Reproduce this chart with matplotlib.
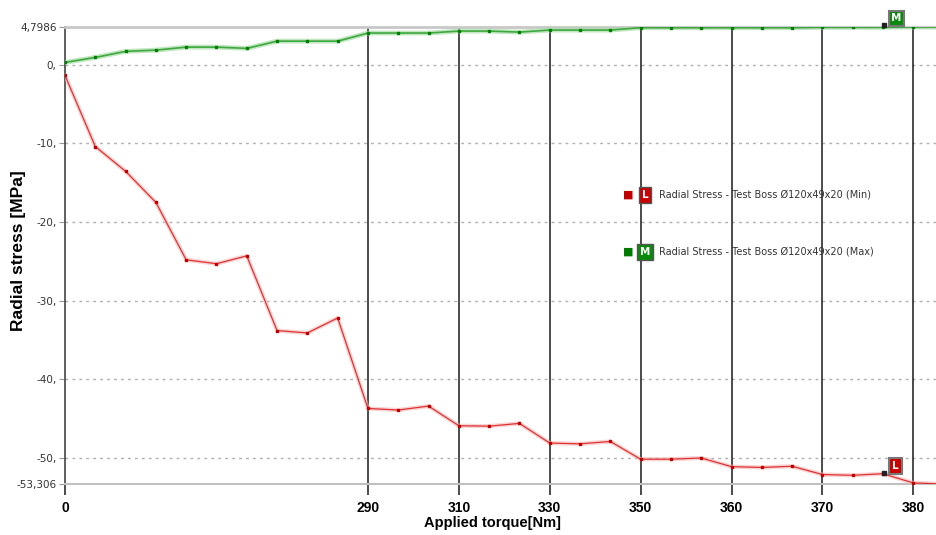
import matplotlib
matplotlib.use("Agg")
import matplotlib.pyplot as plt

# load steps (x axis is the step index, labelled with torque)
steps = list(range(30))
tick_steps = [0, 10, 13, 16, 19, 22, 25, 28]
tick_labels = ["0", "290", "310", "330", "350", "360", "370", "380"]

# radial stress values [MPa]
stress_min = [-1.36, -10.4, -13.55, -17.5, -24.8, -25.3, -24.3, -33.8, -34.1, -32.2,
              -43.7, -43.9, -43.4, -45.9, -45.95, -45.6, -48.1, -48.2, -47.9, -50.15,
              -50.15, -50.0, -51.1, -51.2, -51.05, -52.1, -52.2, -52.0, -53.17, -53.306]
stress_max = [0.29, 0.93, 1.7, 1.86, 2.24, 2.24, 2.08, 3.0, 3.0, 3.0,
              4.03, 4.03, 4.03, 4.28, 4.28, 4.15, 4.41, 4.41, 4.41, 4.71,
              4.71, 4.71, 4.71, 4.71, 4.71, 4.76, 4.76, 4.76, 4.7986, 4.7986]

y_ticks = [4.7986, 0, -10, -20, -30, -40, -50, -53.306]
y_tick_labels = ["4,7986", "0,", "-10,", "-20,", "-30,", "-40,", "-50,", "-53,306"]

series_names = ["Radial Stress - Test Boss \u00d8120x49x20 (Min)",
                "Radial Stress - Test Boss \u00d8120x49x20 (Max)"]

W, H = 936, 535
fig = plt.figure(figsize=(W / 100, H / 100), dpi=100)
ax = fig.add_axes([65 / W, (H - 484) / H, (W - 65) / W, (484 - 27) / H])


def px(x, y):
    return x / W, 1 - y / H


ax.set_xlim(0, 28.75)
ax.set_ylim(-53.306, 4.7986)

# dotted horizontal grid
for v in [0, -10, -20, -30, -40, -50]:
    ax.axhline(v, color="#b0b0b0", lw=1, ls=(0, (2, 3)), zorder=1)

# vertical black lines at the labelled steps
for s in tick_steps[1:]:
    ax.axvline(s, color="#1a1a1a", lw=1.1, zorder=2)

# curves with a soft glow
ax.plot(steps, stress_min, color="#f6b4b4", lw=3, alpha=0.6, zorder=3)
ax.plot(steps, stress_min, color="#dd3333", lw=0.9, marker="s", ms=1.6,
        mfc="#c00000", mec="#c00000", zorder=4)
ax.plot(steps, stress_max, color="#a8dca8", lw=3.5, alpha=0.7, zorder=3)
ax.plot(steps, stress_max, color="#3fa83f", lw=1.2, marker="s", ms=1.7,
        mfc="#008000", mec="#008000", zorder=4)

# spines
ax.spines["right"].set_visible(False)
ax.spines["top"].set_color("#c8c8c8")
ax.spines["top"].set_linewidth(2)
ax.spines["bottom"].set_color("#c0c0c0")
ax.spines["bottom"].set_linewidth(1.5)
ax.spines["left"].set_color("#444444")
ax.spines["left"].set_linewidth(1.2)

ax.set_xticks(tick_steps)
ax.set_xticklabels(tick_labels, fontsize=10, fontweight="bold", family="Liberation Sans")
ax.tick_params(axis="x", length=8, width=1.1, color="#1a1a1a", pad=4)
ax.set_yticks(y_ticks)
ax.set_yticklabels(y_tick_labels, fontsize=7.5, color="#333333", family="DejaVu Sans")
ax.tick_params(axis="y", length=4, width=0.8, color="#999999", pad=2)

fig.text(*px(492, 523), "Applied torque[Nm]", fontsize=10.5, fontweight="bold",
         family="Liberation Sans", ha="center", va="center")
fig.text(*px(19, 251), "Radial stress [MPa]", fontsize=12.5, fontweight="bold",
         family="Liberation Sans", ha="center", va="center", rotation=90)

# probe labels
ax.plot([27.03], [5.1], "s", color="#222222", ms=3, clip_on=False, zorder=6)
ax.plot([27.03], [-51.9], "s", color="#222222", ms=3, clip_on=False, zorder=6)
ax.text(27.45, 5.9, "M", color="white", fontsize=7.5, fontweight="bold", ha="center",
        va="center", zorder=7, clip_on=False,
        bbox=dict(boxstyle="square,pad=0.25", fc="#0a8a0a", ec="#777777", lw=1.5))
ax.text(27.4, -51.0, "L", color="white", fontsize=7.5, fontweight="bold", ha="center",
        va="center", zorder=7,
        bbox=dict(boxstyle="square,pad=0.3", fc="#cc0000", ec="#777777", lw=1.5))

# legend drawn by hand
legend_rows = [(195, "#c00000", "#cc0000", "L"), (252, "#007a00", "#0a8a0a", "M")]
for (ly, sq, box, letter), name in zip(legend_rows, series_names):
    fig.text(*px(628, ly), "\u25a0", color=sq, fontsize=8, ha="center", va="center",
             family="DejaVu Sans")
    fig.text(*px(645, ly), letter, color="white", fontsize=7.5, fontweight="bold",
             ha="center", va="center",
             bbox=dict(boxstyle="square,pad=0.3", fc=box, ec="#555555", lw=1))
    fig.text(*px(659, ly), name, fontsize=7, color="#333333", ha="left", va="center",
             family="DejaVu Sans")

fig.savefig("out.png", dpi=100)
